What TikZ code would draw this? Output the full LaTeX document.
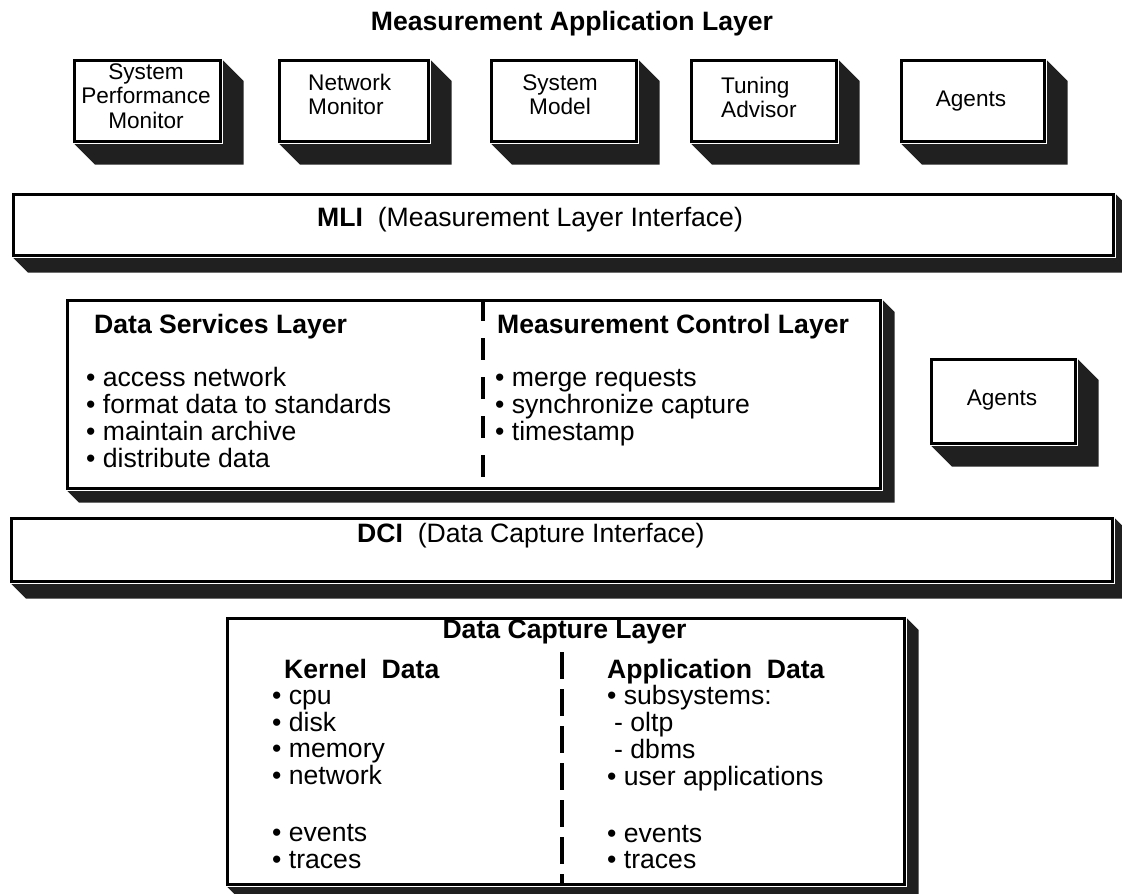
\documentclass[tikz,border=0pt]{standalone}
\usepackage{fontspec}
\setmainfont{Liberation Sans}
\usetikzlibrary{calc,backgrounds}
\definecolor{shadowc}{HTML}{202020}
\newcommand\bigf{\fontsize{26.6pt}{26.4pt}\selectfont}
\newcommand\smallf{\fontsize{22.6pt}{24.5pt}\selectfont}
\newcommand\linesL[1]{\begin{tabular}[t]{@{}l@{}}#1\end{tabular}}
\newcommand\linesC[1]{\begin{tabular}[t]{@{}c@{}}#1\end{tabular}}
\newcommand\shadowof[2]{%
  \fill[shadowc] (#1.north east) -- ++(#2,#2) -- ($(#1.south east)+(#2,#2)$)
    -- ($(#1.south west)+(#2,#2)$) -- (#1.south west) -- cycle;}
\tikzset{
  layerbox/.style={rectangle, draw=black, line width=2.6pt, fill=white,
    inner sep=0pt, anchor=north west,
    preaction={draw=white, line width=5pt}},
  boxtxt/.style={inner sep=0pt, font=\smallf},
  bodytxt/.style={inner sep=0pt, font=\bigf, anchor=base west},
  divider/.style={line width=3.5pt, dash pattern=on 22pt off 17pt},
}
\begin{document}
\begin{tikzpicture}[x=1pt,y=-1pt]
\useasboundingbox (0,0) rectangle (1122,894);
\clip (0,0) rectangle (1122,894);

% title
\node[inner sep=0pt, font=\bigf\bfseries, anchor=base] (title) at (572,30) {Measurement Application Layer};

% top boxes
\node[layerbox, minimum width=146pt, minimum height=81pt] (spm) at (73,59) {};
\node[boxtxt, anchor=base] (spmt) at (146,79) {\linesC{System\\Performance\\Monitor}};
\node[layerbox, minimum width=149pt, minimum height=81pt] (nm) at (278,59) {};
\node[boxtxt, anchor=base west] (nmt) at (308,90) {\linesL{Network\\Monitor}};
\node[layerbox, minimum width=145pt, minimum height=81pt] (sm) at (490,59) {};
\node[boxtxt, anchor=base] (smt) at (560,90) {\linesC{System\\Model}};
\node[layerbox, minimum width=145pt, minimum height=81pt] (ta) at (690,59) {};
\node[boxtxt, anchor=base west] (tat) at (721,93) {\linesL{Tuning\\Advisor}};
\node[layerbox, minimum width=143pt, minimum height=81pt] (ag1) at (900,59) {};
\node[boxtxt, anchor=base] (ag1t) at (971,106) {Agents};

% MLI
\node[layerbox, minimum width=1100pt, minimum height=61pt] (mli) at (12,193) {};
\node[inner sep=0pt, font=\bigf, anchor=base west] (mlit) at (317,226) {\textbf{MLI}\ \ (Measurement Layer Interface)};

% middle box
\node[layerbox, minimum width=813pt, minimum height=188pt] (mid) at (66,299) {};
\coordinate (d1top) at (483,299);
\coordinate (d1bot) at (483,487);
\draw[divider] (d1top) -- (d1bot);
\node[bodytxt] (dslh) at (94,333) {\bfseries Data Services Layer};
\node[bodytxt] (dsll) at (86,386) {\linesL{• access network\\• format data to standards\\• maintain archive\\• distribute data}};
\node[bodytxt] (mclh) at (497,333) {\bfseries Measurement Control Layer};
\node[bodytxt] (mcll) at (495,386) {\linesL{• merge requests\\• synchronize capture\\• timestamp}};

% agents mid
\node[layerbox, minimum width=144pt, minimum height=84pt] (ag2) at (930,358) {};
\node[boxtxt, anchor=base] (ag2t) at (1002,405) {Agents};

% DCI
\node[layerbox, minimum width=1101pt, minimum height=63pt] (dci) at (10,517) {};
\node[inner sep=0pt, font=\bigf, anchor=base west] (dcit) at (357,542) {\textbf{DCI}\ \ (Data Capture Interface)};

% bottom box
\node[layerbox, minimum width=677pt, minimum height=266pt] (dcl) at (226,617) {};
\node[inner sep=0pt, font=\bigf\bfseries, anchor=base] (dclh) at (564.5,638) {Data Capture Layer};
\coordinate (d2top) at (562,652);
\coordinate (d2bot) at (562,883);
\draw[line width=3.5pt, dash pattern=on 27pt off 10pt] (d2top) -- (d2bot);
\node[bodytxt] (kdh) at (284,678) {\bfseries Kernel\ \ Data};
\node[bodytxt] (kdl) at (272,704) {\linesL{• cpu\\• disk\\• memory\\• network\\[30.5pt]• events\\• traces}};
\node[bodytxt] (adh) at (607,678) {\bfseries Application\ \ Data};
\node[bodytxt] (adl) at (607,704) {\linesL{• subsystems:\\\hspace*{7pt}- oltp\\\hspace*{7pt}- dbms\\• user applications\\[30.5pt]• events\\• traces}};

\begin{scope}[on background layer]
\shadowof{spm}{22}
\shadowof{nm}{22}
\shadowof{sm}{22}
\shadowof{ta}{22}
\shadowof{ag1}{22}
\shadowof{mli}{16}
\shadowof{mid}{13}
\shadowof{ag2}{22}
\shadowof{dci}{16}
\shadowof{dcl}{13}
\end{scope}
\end{tikzpicture}
\end{document}
